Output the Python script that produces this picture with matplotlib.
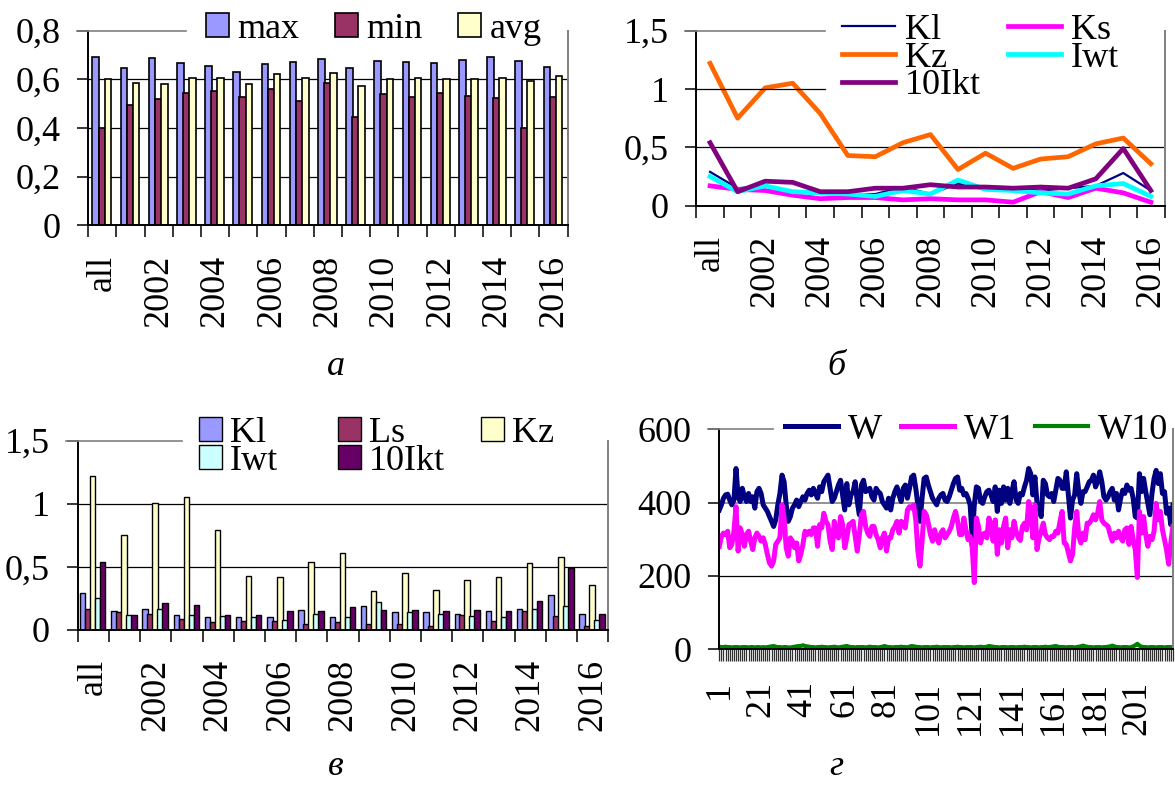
import matplotlib
matplotlib.use("Agg")
import matplotlib.pyplot as plt
import matplotlib.transforms as mtransforms
from matplotlib.lines import Line2D
import numpy as np

plt.rcParams['font.family'] = ['Liberation Serif', 'DejaVu Serif']

# ---------------- data ----------------
categories = ['all', '2001', '2002', '2003', '2004', '2005', '2006', '2007', '2008',
              '2009', '2010', '2011', '2012', '2013', '2014', '2015', '2016']

share_max = [0.693, 0.645, 0.686, 0.666, 0.656, 0.630, 0.663, 0.673, 0.684,
             0.645, 0.675, 0.671, 0.668, 0.679, 0.693, 0.674, 0.652]
share_min = [0.399, 0.495, 0.518, 0.545, 0.553, 0.526, 0.559, 0.511, 0.586,
             0.445, 0.538, 0.529, 0.542, 0.532, 0.522, 0.399, 0.526]
share_avg = [0.600, 0.586, 0.581, 0.605, 0.604, 0.581, 0.622, 0.605, 0.627,
             0.573, 0.600, 0.605, 0.600, 0.600, 0.605, 0.593, 0.614]

kl = [0.29, 0.15, 0.17, 0.12, 0.10, 0.10, 0.10, 0.16, 0.10, 0.19, 0.14, 0.14, 0.13, 0.15, 0.17, 0.28, 0.13]
ks = [0.17, 0.14, 0.13, 0.09, 0.06, 0.07, 0.07, 0.05, 0.06, 0.05, 0.05, 0.03, 0.12, 0.07, 0.15, 0.11, 0.03]
kz = [1.22, 0.75, 1.01, 1.05, 0.79, 0.43, 0.42, 0.54, 0.61, 0.31, 0.45, 0.32, 0.40, 0.42, 0.53, 0.58, 0.36]
iwt = [0.25, 0.12, 0.17, 0.12, 0.11, 0.10, 0.08, 0.13, 0.10, 0.22, 0.14, 0.13, 0.11, 0.10, 0.17, 0.19, 0.08]
ikt10 = [0.54, 0.12, 0.21, 0.20, 0.12, 0.12, 0.15, 0.15, 0.18, 0.16, 0.16, 0.15, 0.16, 0.15, 0.23, 0.49, 0.13]

w_total = [
    380, 394, 412, 421, 423, 407, 394, 407, 493, 416, 403, 439, 416, 403, 425, 403, 416, 385, 430, 439,
    425, 394, 385, 376, 362, 349, 335, 353, 394, 425, 475, 457, 394, 349, 362, 385, 394, 407, 389, 403,
    416, 407, 425, 434, 421, 439, 425, 412, 443, 430, 457, 466, 475, 439, 403, 412, 430, 448, 461, 421,
    380, 452, 394, 421, 430, 457, 403, 367, 448, 461, 430, 434, 439, 416, 407, 439, 430, 425, 403, 394,
    385, 412, 380, 412, 430, 443, 421, 403, 439, 448, 412, 439, 470, 475, 439, 394, 349, 412, 466, 470,
    448, 430, 412, 403, 394, 412, 421, 425, 407, 403, 416, 434, 452, 466, 470, 434, 439, 421, 425, 412,
    394, 304, 394, 443, 439, 403, 398, 416, 430, 434, 421, 403, 443, 376, 434, 398, 443, 407, 439, 398,
    430, 457, 407, 398, 425, 421, 443, 461, 493, 479, 421, 470, 398, 385, 362, 461, 452, 421, 416, 425,
    403, 434, 466, 461, 439, 439, 484, 421, 358, 407, 421, 479, 430, 398, 430, 430, 443, 457, 461, 475,
    443, 457, 484, 457, 416, 407, 416, 430, 439, 407, 425, 380, 412, 434, 425, 448, 434, 439, 412, 362,
    358, 479, 430, 466, 430, 398, 367, 425, 466, 488, 452, 479, 425, 430, 371, 385, 340, 394]
w_one = [
    281, 308, 317, 313, 322, 277, 286, 322, 389, 268, 331, 313, 281, 313, 322, 295, 272, 304, 317, 308,
    295, 304, 286, 259, 236, 227, 241, 286, 295, 304, 394, 358, 277, 254, 304, 295, 277, 290, 241, 259,
    286, 322, 313, 322, 313, 331, 331, 281, 340, 331, 371, 349, 340, 295, 272, 349, 313, 304, 362, 340,
    277, 304, 340, 344, 349, 308, 268, 313, 367, 376, 335, 317, 308, 335, 335, 313, 299, 277, 304, 317,
    268, 304, 304, 326, 335, 349, 317, 349, 344, 331, 380, 389, 385, 394, 353, 268, 227, 295, 376, 367,
    344, 313, 295, 326, 304, 290, 317, 326, 304, 313, 322, 335, 358, 376, 349, 313, 313, 358, 326, 299,
    308, 277, 182, 358, 335, 290, 313, 317, 304, 358, 335, 295, 353, 259, 326, 290, 335, 358, 277, 326,
    304, 349, 322, 304, 297, 335, 344, 326, 403, 380, 304, 394, 272, 304, 322, 344, 313, 304, 299, 308,
    308, 322, 317, 349, 376, 290, 286, 263, 241, 259, 331, 376, 308, 290, 317, 299, 344, 344, 353, 367,
    353, 371, 403, 353, 344, 340, 335, 313, 295, 317, 304, 322, 304, 295, 326, 331, 286, 335, 299, 272,
    196, 376, 317, 362, 313, 281, 308, 299, 322, 398, 353, 376, 326, 299, 270, 232, 290, 335]
w_ten = [
    7, 6, 6, 7, 6, 6, 5, 6, 6, 6, 5, 6, 6, 6, 5, 6, 6, 5, 6, 6,
    5, 6, 5, 6, 7, 8, 9, 7, 6, 6, 5, 6, 6, 5, 5, 6, 7, 8, 9, 9,
    11, 9, 8, 7, 6, 6, 5, 6, 6, 7, 6, 6, 5, 6, 6, 7, 6, 5, 6, 7,
    8, 9, 7, 6, 6, 5, 6, 6, 6, 6, 5, 6, 7, 6, 6, 6, 5, 6, 7, 9,
    7, 6, 6, 5, 6, 6, 6, 7, 6, 6, 5, 7, 9, 8, 7, 6, 6, 5, 6, 6,
    6, 5, 6, 6, 7, 6, 5, 6, 6, 6, 6, 5, 6, 6, 7, 6, 6, 5, 6, 6,
    6, 6, 5, 6, 6, 7, 6, 6, 7, 9, 8, 7, 6, 6, 5, 6, 6, 6, 5, 6,
    6, 6, 5, 6, 6, 6, 7, 6, 6, 5, 6, 6, 6, 5, 6, 6, 7, 6, 6, 7,
    8, 9, 7, 6, 6, 6, 5, 6, 6, 6, 5, 6, 7, 8, 10, 8, 7, 6, 6, 5,
    6, 6, 6, 5, 6, 6, 7, 8, 10, 8, 6, 6, 5, 6, 6, 6, 5, 6, 8, 11,
    15, 10, 7, 6, 6, 5, 6, 6, 6, 5, 6, 6, 6, 5, 6, 6, 6, 5]
day_ticklabels = ['1', '21', '41', '61', '81', '101', '121', '141', '161', '181', '201']

a_yticks = [0, 0.2, 0.4, 0.6, 0.8]
a_yticklabels = ['0', '0,2', '0,4', '0,6', '0,8']
k_yticks = [0, 0.5, 1, 1.5]
k_yticklabels = ['0', '0,5', '1', '1,5']
w_yticks = [0, 200, 400, 600]
w_yticklabels = ['0', '200', '400', '600']

# ---------------- style ----------------
W, H = 1175, 785
FS = 26
GRAY = '#808080'
fig = plt.figure(figsize=(W / 100, H / 100), dpi=100)


def px_axes(left, top, right, bottom):
    return fig.add_axes([left / W, 1 - bottom / H, (right - left) / W, (bottom - top) / H])


def fig_xy(x_px, y_px):
    return (x_px / W, 1 - y_px / H)


def frame(ax, ymax, yticks, yticklabels):
    ax.set_ylim(0, ymax)
    ax.set_yticks(yticks)
    ax.set_yticklabels(yticklabels)
    ax.tick_params(axis='y', direction='out', length=8, width=1.1, pad=12, labelsize=FS)
    ax.spines['top'].set_visible(False)
    ax.spines['right'].set_color(GRAY)
    for s in ('left', 'bottom', 'right'):
        ax.spines[s].set_linewidth(1.4)
    ax.set_facecolor('none')


def rule(ax, y, x0_px, x1_px, color, lw=1.2):
    tr = mtransforms.blended_transform_factory(fig.transFigure, ax.transData)
    ax.add_line(Line2D([x0_px / W, x1_px / W], [y, y], transform=tr, color=color,
                       lw=lw, clip_on=False, zorder=3))


def category_axis(ax, labels):
    n = len(labels)
    ax.set_xlim(-0.5, n - 0.5)
    ax.set_xticks(np.arange(n + 1) - 0.5)
    ax.set_xticklabels([])
    ax.tick_params(axis='x', which='major', direction='out', length=8.5, width=1.1)
    ax.set_xticks(np.arange(0, n, 2), minor=True)
    ax.set_xticklabels(labels[::2], minor=True, rotation=90)
    ax.tick_params(axis='x', which='minor', length=0, pad=21, labelsize=FS)


legend_common = dict(frameon=False, borderpad=0, borderaxespad=0, fontsize=FS,
                     bbox_transform=fig.transFigure)
square_keys = dict(handlelength=0.64, handleheight=0.64, handletextpad=0.22)
line_keys = dict(handlelength=1.47, handletextpad=0.27)

x_cat = np.arange(len(categories))

# ---------------- panel a ----------------
ax_a = px_axes(88.3, 30.7, 567.6, 225.3)
frame(ax_a, 0.8, a_yticks, a_yticklabels)
category_axis(ax_a, categories)
for g in a_yticks[1:-1]:
    ax_a.axhline(g, color='black', lw=0.9, zorder=1)
rule(ax_a, 0.8, 76.7, 186, GRAY)
bw = 0.235
b1 = ax_a.bar(x_cat - 0.235, share_max, bw, color='#9999FF', edgecolor='black', lw=1.2, zorder=2)
b2 = ax_a.bar(x_cat - 0.02, share_min, bw, color='#993366', edgecolor='black', lw=1.2, zorder=2)
b3 = ax_a.bar(x_cat + 0.195, share_avg, bw, color='#FFFFCC', edgecolor='black', lw=1.2, zorder=2)
ax_a.legend([b1, b2, b3], ['max', 'min', 'avg'], ncol=3, loc='center left',
            bbox_to_anchor=fig_xy(205.7, 29.5), columnspacing=1.0,
            **square_keys, **legend_common)

# ---------------- panel b ----------------
ax_b = px_axes(696.3, 30.7, 1164.6, 205.7)
frame(ax_b, 1.5, k_yticks, k_yticklabels)
category_axis(ax_b, categories)
ax_b.axhline(0.5, color='black', lw=0.9, zorder=1)
rule(ax_b, 1.0, 696.3, 825, 'black', lw=0.9)
rule(ax_b, 1.5, 685, 825, GRAY)
l_kl, = ax_b.plot(x_cat, kl, color='#000080', lw=1.6, zorder=2)
l_ks, = ax_b.plot(x_cat, ks, color='#FF00FF', lw=3.4, zorder=2)
l_kz, = ax_b.plot(x_cat, kz, color='#FF6600', lw=3.4, zorder=2)
l_iwt, = ax_b.plot(x_cat, iwt, color='#00FFFF', lw=3.4, zorder=2)
l_ikt, = ax_b.plot(x_cat, ikt10, color='#800080', lw=3.4, zorder=2)
ax_b.legend([l_kl, l_kz, l_ikt, l_ks, l_iwt], ['Kl', 'Kz', '10Ikt', 'Ks', 'Iwt'], ncol=2,
            loc='center left', bbox_to_anchor=fig_xy(842, 58), columnspacing=0.75,
            labelspacing=-0.15, **line_keys, **legend_common)

# ---------------- panel c ----------------
ax_c = px_axes(77.7, 440.7, 608.3, 630)
frame(ax_c, 1.5, k_yticks, k_yticklabels)
category_axis(ax_c, categories)
for g in (0.5, 1.0):
    ax_c.axhline(g, color='black', lw=0.9, zorder=1)
rule(ax_c, 1.5, 66, 182, GRAY)
cw = 0.175
step = 0.16
c_series = [(kl, '#9999FF'), (ks, '#993366'), (kz, '#FFFFCC'), (iwt, '#CCFFFF'), (ikt10, '#660066')]
c_bars = []
for k, (vals, col) in enumerate(c_series):
    c_bars.append(ax_c.bar(x_cat - 0.02 + (k - 2) * step, vals, cw, color=col,
                           edgecolor='black', lw=1.0, zorder=2))
leg_c1 = ax_c.legend([c_bars[0], c_bars[3], c_bars[1], c_bars[4]],
                     ['Kl', 'Iwt', 'Ls', '10Ikt'], ncol=2, loc='upper left',
                     bbox_to_anchor=fig_xy(199, 417), columnspacing=1.65,
                     labelspacing=-0.15, **square_keys, **legend_common)
ax_c.add_artist(leg_c1)
ax_c.legend([c_bars[2]], ['Kz'], loc='upper left', bbox_to_anchor=fig_xy(481, 417),
            **square_keys, **legend_common)

# ---------------- panel d ----------------
ax_d = px_axes(719.3, 429.3, 1173.3, 649.3)
frame(ax_d, 600, w_yticks, w_yticklabels)
days = np.arange(1, len(w_total) + 1)
ax_d.set_xlim(1, 218.2)
ax_d.set_xticks([int(t) for t in day_ticklabels])
ax_d.set_xticklabels(day_ticklabels, rotation=90)
ax_d.set_xticks(days, minor=True)
ax_d.tick_params(axis='x', which='both', direction='out', length=8.5, width=0.9, color='#303030')
ax_d.tick_params(axis='x', which='major', pad=14.5, labelsize=FS)
ax_d.axhline(200, color='black', lw=0.9, zorder=1)
ax_d.axhline(400, color=GRAY, lw=1.2, zorder=1)
rule(ax_d, 600, 708, 773, GRAY)
l_w, = ax_d.plot(days, w_total, color='#000080', lw=3.6, zorder=2)
l_w1, = ax_d.plot(days, w_one, color='#FF00FF', lw=3.6, zorder=2)
l_w10, = ax_d.plot(days, w_ten, color='#008000', lw=3.0, zorder=2)
ax_d.legend([l_w, l_w1, l_w10], ['W', 'W1', 'W10'], ncol=3, loc='center left',
            bbox_to_anchor=fig_xy(785, 430), columnspacing=0.52,
            **line_keys, **legend_common)

# ---------------- captions ----------------
for x, y, s in [(336, 375, 'а'), (836, 375, 'б'), (336, 775, 'в'), (836, 775, 'г')]:
    fig.text(x / W, 1 - y / H, s, ha='center', va='baseline', style='italic', fontsize=FS)

fig.savefig('out.png', dpi=100)
